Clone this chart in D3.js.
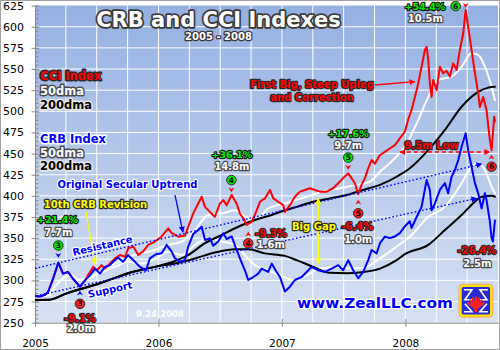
<!DOCTYPE html>
<html><head><meta charset="utf-8">
<script src="https://cdn.jsdelivr.net/npm/d3@7"></script>
<style>
html,body{margin:0;padding:0;background:#fff;}
svg{display:block;}
text{font-family:"DejaVu Sans",Verdana,sans-serif;}
</style></head><body>
<svg id="c" width="500" height="350"></svg>
<script>
// ---------- DATA (decimal year, index value) ----------
const yearTicks = [2005, 2006, 2007, 2008];
const valueTicks = [250,275,300,325,350,375,400,425,450,475,500,525,550,575,600,625];

const crb = [
[2005.000,282],[2005.040,281],[2005.081,283],[2005.105,286],[2005.146,302],[2005.189,321],[2005.227,308],
[2005.267,310],[2005.308,302],[2005.364,292.6],[2005.405,300],[2005.445,306],[2005.486,314],[2005.526,308],
[2005.567,316],[2005.607,318],[2005.632,322],[2005.672,327],[2005.713,322],[2005.753,330],[2005.810,322],
[2005.850,316],[2005.899,312],[2005.931,326],[2005.980,331],[2006.026,332],[2006.066,342],[2006.107,334],
[2006.134,326],[2006.174,322],[2006.215,324],[2006.241,340],[2006.282,355],[2006.322,359.6],[2006.350,363.5],
[2006.377,347.8],[2006.417,349.8],[2006.444,341],[2006.484,346],[2006.525,355.7],[2006.552,349],[2006.593,352],
[2006.633,336],[2006.660,326],[2006.700,312],[2006.727,300.5],[2006.768,304],[2006.808,308],[2006.836,314],
[2006.889,310],[2006.917,320],[2006.957,310],[2006.984,304],[2007.024,287],[2007.065,292.6],[2007.105,300.5],
[2007.160,304],[2007.200,310],[2007.240,316],[2007.294,312],[2007.348,310],[2007.402,314],[2007.456,318],
[2007.496,312],[2007.537,324],[2007.577,312],[2007.618,302.5],[2007.658,310],[2007.699,324],[2007.726,336],
[2007.767,332],[2007.794,344],[2007.834,351.7],[2007.874,350],[2007.915,352],[2007.955,356],[2007.996,364],
[2008.036,370],[2008.050,362],[2008.091,375],[2008.131,387],[2008.172,418.7],[2008.198,407],[2008.212,383],
[2008.239,391],[2008.279,407],[2008.320,415],[2008.346,403],[2008.374,422.6],[2008.401,430.5],[2008.428,442.4],
[2008.455,458],[2008.488,474],[2008.508,454],[2008.536,434.5],[2008.563,415],[2008.590,403],[2008.617,385],
[2008.644,403],[2008.657,395],[2008.684,370],[2008.698,350],[2008.709,346],[2008.725,371]
];

const cci = [
[2005.000,282],[2005.040,281],[2005.081,283],[2005.105,286],[2005.146,302],[2005.189,321],[2005.227,308],
[2005.267,310],[2005.308,302],[2005.364,292.6],[2005.405,300],[2005.429,306],[2005.472,316],[2005.502,312],
[2005.540,318],[2005.567,314],[2005.607,320],[2005.648,326],[2005.688,330],[2005.729,328],[2005.755,338],
[2005.796,340],[2005.836,330],[2005.874,334],[2005.917,342],[2005.972,346],[2006.026,352],[2006.079,361.6],
[2006.107,356],[2006.160,351.7],[2006.215,353],[2006.241,363.5],[2006.282,379.3],[2006.322,391],[2006.350,399],
[2006.377,387],[2006.417,381],[2006.457,375.3],[2006.498,391],[2006.525,395],[2006.552,389],[2006.593,401],
[2006.633,391],[2006.660,379],[2006.687,373.5],[2006.714,365.5],[2006.755,369.4],[2006.781,377.4],[2006.822,393],
[2006.862,397],[2006.903,407],[2006.930,397],[2006.970,393],[2007.011,389],[2007.024,381],[2007.065,389],
[2007.105,399],[2007.146,405],[2007.186,407],[2007.227,409],[2007.267,407],[2007.308,405],[2007.362,405],
[2007.415,409],[2007.456,415],[2007.496,421],[2007.537,426.6],[2007.564,421],[2007.591,415],[2007.618,402],
[2007.645,413],[2007.672,421],[2007.699,432.6],[2007.726,442.4],[2007.753,438],[2007.794,448.3],[2007.834,452],
[2007.874,456],[2007.915,460],[2007.955,468],[2007.996,476],[2008.022,490],[2008.050,501.5],[2008.077,517],
[2008.104,533],[2008.131,552.7],[2008.158,572.5],[2008.172,576.4],[2008.185,560.6],[2008.198,533],[2008.212,517],
[2008.225,537],[2008.253,525],[2008.279,552.7],[2008.306,545],[2008.333,548],[2008.360,541],[2008.387,556.7],
[2008.415,548.8],[2008.441,572.5],[2008.468,592],[2008.488,619.7],[2008.508,600],[2008.536,572.5],[2008.563,545],
[2008.590,521],[2008.603,505],[2008.630,517],[2008.657,501.5],[2008.684,466],[2008.698,454],[2008.719,493.6],
[2008.725,488]
];

const crb50 = [
[2005.000,282],[2005.105,282],[2005.162,292.6],[2005.243,304],[2005.297,306],[2005.351,300.5],[2005.432,302.5],
[2005.540,310],[2005.648,316],[2005.755,322],[2005.864,320],[2005.972,325],[2006.079,334],[2006.188,330],
[2006.296,342],[2006.403,350],[2006.512,346],[2006.619,342],[2006.700,330],[2006.781,318],[2006.889,312],
[2006.984,306],[2007.092,300.5],[2007.200,306],[2007.308,314],[2007.443,316],[2007.577,314],[2007.686,316],
[2007.794,326],[2007.929,340],[2008.050,353.7],[2008.185,375],[2008.320,387],[2008.455,415],[2008.536,434.5],
[2008.590,438.5],[2008.644,430.5],[2008.698,410.8],[2008.725,403]
];

const cci50 = [
[2005.000,282],[2005.105,282],[2005.162,292.6],[2005.243,304],[2005.297,306],[2005.351,300.5],[2005.432,302.5],
[2005.540,311],[2005.648,320],[2005.755,328],[2005.864,332],[2005.972,336],[2006.079,342],[2006.188,346],
[2006.296,359.6],[2006.403,377.4],[2006.512,379.3],[2006.619,383],[2006.700,375.3],[2006.781,371.4],[2006.889,385],
[2007.024,391],[2007.200,399],[2007.334,405],[2007.470,409],[2007.605,413],[2007.713,416.7],[2007.794,428.5],
[2007.901,442.4],[2007.996,458],[2008.104,489.7],[2008.185,517],[2008.266,537],[2008.374,541],[2008.455,552.7],
[2008.536,568.6],[2008.590,566.6],[2008.644,552.7],[2008.698,529],[2008.725,513]
];

const crb200 = [
[2005.000,276.8],[2005.108,277],[2005.257,284.7],[2005.526,296.6],[2005.796,310.3],[2005.972,316],[2006.134,320],
[2006.296,326],[2006.457,333],[2006.619,337],[2006.727,337],[2006.862,332],[2007.024,329],[2007.119,324],
[2007.253,316],[2007.389,309],[2007.524,308.5],[2007.658,310],[2007.794,314],[2007.929,324],[2007.996,331],
[2008.185,342],[2008.320,359.6],[2008.455,377.4],[2008.563,393],[2008.617,399],[2008.698,400],[2008.725,399]
];

const cci200 = [
[2005.000,276.8],[2005.108,277],[2005.257,284.7],[2005.526,296.6],[2005.796,310.3],[2005.972,316],[2006.134,323],
[2006.241,330],[2006.377,344],[2006.512,353.7],[2006.646,363.5],[2006.781,371.4],[2006.917,377.4],[2007.024,383],
[2007.119,387],[2007.253,393],[2007.389,397],[2007.524,401],[2007.658,407],[2007.794,413],[2007.929,422.6],
[2008.036,432.6],[2008.185,454],[2008.320,478],[2008.455,505.4],[2008.590,523],[2008.671,528],[2008.725,529]
];

// trend channel (start, end) in data units
const resistanceLine = [[2005.000,314.3],[2008.619,437.7]];
const supportLine    = [[2005.040,282.8],[2008.579,397.1]];

// annotations anchored in data units: [year, value, text, style]
const labels = [
 [2008.158,620.3,"+54.4%","green"],[2008.162,605.9,"10.5m","white"],
 [2007.243,527.5,"First Big, Steep Upleg","red"],[2007.243,512.1,"and Correction","red"],
 [2008.211,455.4,"9.5m Low","red"],
 [2007.537,469.9,"+17.6%","green"],[2007.537,456.0,"9.7m","white"],
 [2006.595,445.3,"+36.1%","green"],[2006.595,430.6,"14.8m","white"],
 [2005.749,409.3,"Original Secular Uptrend","blue"],
 [2005.490,385.3,"10th CRB Revision","yellow"],
 [2005.182,367.9,"+21.4%","green"],[2005.189,352.9,"7.7m","white"],
 [2005.364,251.2,"-9.1%","red"],[2005.372,238.6,"2.0m","white"],
 [2006.012,257.3,"9.24.2008","plain"],
 [2006.911,351.3,"-9.3%","red"],[2006.911,338.0,"1.6m","white"],
 [2007.259,359.6,"Big Gap","yellow"],
 [2007.611,359.6,"-6.4%","red"],[2007.618,344.6,"1.0m","white"],
 [2008.579,331.2,"-26.4%","red"],[2008.583,316.2,"2.5m","white"]
];
const channelLabels = [[2005.553,337.1,"Resistance",resistanceLine],[2005.615,285.1,"Support",supportLine]];
const circles = [
 [2008.407,624.5,"6","green"],[2007.537,445.3,"5","green"],[2006.591,418.7,"4","green"],[2005.189,341.3,"3","green"],
 [2005.364,272.3,"3","red"],[2006.727,343.9,"4","red"],[2007.618,379.4,"5","red"],[2008.698,434.5,"6","red"]
];
const chevrons = [
 [2008.488,625.1,"down","red"],[2007.537,433.5,"down","red"],[2006.591,406.9,"down","red"],[2005.189,329.5,"down","blue"],
 [2005.364,285.1,"up","blue"],[2006.727,354.9,"up","red"],[2007.618,392.7,"up","red"],[2008.698,445.9,"up","red"]
];
const arrows = [
 {from:[2007.753,531.1],to:[2008.077,535.0],color:"red"},
 {from:[2006.134,401.0],to:[2006.198,357.2],color:"blue"},
 {from:[2005.413,380.9],to:[2005.486,319.4],color:"yellow"}
];
const doubleArrows = [
 {from:[2007.955,451.8],to:[2008.684,451.8],color:"red",dash:"4,3"},
 {from:[2007.294,397.1],to:[2007.294,320.2],color:"yellow",dash:null}
];
const logoAt = [2008.571,276.0];

// ---------- LAYOUT ----------
const W = 500, H = 350;
const M = {l:35, r:2, t:5.6, b:27.3};
const svg = d3.select("#c");
const x = d3.scaleLinear().domain([2005, 2008.75]).range([M.l, W - M.r]);
const y = d3.scaleLinear().domain([250, 625]).range([H - M.b, M.t]);

const colors = {red:"#ff0000", blue:"#0000ff", yellow:"#ffff00", green:"#00e400", white:"#ffffff", black:"#000000"};
const textStyles = {
  green:{fill:"#00ee00", stroke:"#1a1a1a"},
  white:{fill:"#ffffff", stroke:"#4a4a4a"},
  red:{fill:"#ff0000", stroke:"#2a2a2a"},
  blue:{fill:"#0000ff", stroke:"#ffffff"},
  yellow:{fill:"#ffff00", stroke:"#2a2a2a"},
  black:{fill:"#000000", stroke:"#e8e8e8"},
  plain:{fill:"#ffffff", stroke:"none"}
};

const defs = svg.append("defs");
const grad = defs.append("linearGradient").attr("id","bg").attr("x1",0).attr("y1",0).attr("x2",0).attr("y2",1);
grad.append("stop").attr("offset","0%").attr("stop-color","#94b0e2");
grad.append("stop").attr("offset","100%").attr("stop-color","#d6e1f3");
defs.append("clipPath").attr("id","plotclip").append("rect")
  .attr("x",x.range()[0]).attr("y",y.range()[1]).attr("width",x.range()[1]-x.range()[0]).attr("height",y.range()[0]-y.range()[1]);
Object.entries(colors).forEach(([k,c])=>{
  defs.append("marker").attr("id","arr-"+k).attr("viewBox","0 0 10 10").attr("refX",9).attr("refY",5)
    .attr("markerWidth",6).attr("markerHeight",6).attr("markerUnits","userSpaceOnUse").attr("orient","auto-start-reverse")
    .append("path").attr("d","M0,0 L10,5 L0,10 Z").attr("fill",c);
});

// background
svg.append("rect").attr("width",W).attr("height",H).attr("fill","#fff");
svg.append("rect").attr("x",x.range()[0]).attr("y",y.range()[1])
  .attr("width",x.range()[1]-x.range()[0]).attr("height",y.range()[0]-y.range()[1]).attr("fill","url(#bg)");

// grid
const grid = svg.append("g").attr("stroke","#ffffff").attr("stroke-width",1);
grid.selectAll("line.h").data(valueTicks.filter(v=>v>250 && v<625)).join("line")
  .attr("x1",x.range()[0]).attr("x2",x.range()[1]).attr("y1",d=>y(d)).attr("y2",d=>y(d));
grid.selectAll("line.v").data(d3.range(2005.25, 2008.75, 0.25)).join("line")
  .attr("x1",d=>x(d)).attr("x2",d=>x(d)).attr("y1",y.range()[0]).attr("y2",y.range()[1]);

// axes
const axisColor = "#8a8a8a";
const gy = svg.append("g").attr("transform",`translate(${M.l},0)`)
  .call(d3.axisLeft(y).tickValues(valueTicks).tickSize(3.5).tickSizeOuter(0).tickPadding(7.5));
gy.select(".domain").attr("stroke",axisColor);
gy.selectAll(".tick line").attr("stroke",axisColor);
gy.selectAll(".tick text").attr("font-size",11).attr("fill","#000").attr("font-family","'DejaVu Sans',sans-serif");
const gyIn = svg.append("g").attr("transform",`translate(${M.l},0)`)
  .call(d3.axisRight(y).tickValues(valueTicks).tickSize(4.3).tickSizeOuter(0).tickFormat(""));
gyIn.select(".domain").remove(); gyIn.selectAll(".tick line").attr("stroke",axisColor);
const gyMinor = svg.append("g").attr("transform",`translate(${M.l},0)`)
  .call(d3.axisRight(y).tickValues(d3.range(250, 626, 5)).tickSize(3.3).tickSizeOuter(0).tickFormat(""));
gyMinor.select(".domain").remove(); gyMinor.selectAll(".tick line").attr("stroke",axisColor);

const gx = svg.append("g").attr("transform",`translate(0,${y.range()[0]})`)
  .call(d3.axisBottom(x).tickValues(yearTicks).tickFormat(d3.format("d")).tickSize(4).tickSizeOuter(0).tickPadding(13));
gx.select(".domain").attr("stroke",axisColor);
gx.selectAll(".tick line").attr("stroke",axisColor);
gx.selectAll(".tick text").attr("font-size",10.5).attr("fill","#000").attr("font-family","'DejaVu Sans',sans-serif");
const gxIn = svg.append("g").attr("transform",`translate(0,${y.range()[0]})`)
  .call(d3.axisTop(x).tickValues(yearTicks).tickSize(4).tickSizeOuter(0).tickFormat(""));
gxIn.select(".domain").remove(); gxIn.selectAll(".tick line").attr("stroke",axisColor);

// series
const plot = svg.append("g").attr("clip-path","url(#plotclip)");
const rawLine = d3.line().x(d=>x(d[0])).y(d=>y(d[1]));
const smoothLine = d3.line().x(d=>x(d[0])).y(d=>y(d[1])).curve(d3.curveMonotoneX);
function draw(data, gen, color, w){
  plot.append("path").datum(data).attr("d",gen).attr("fill","none").attr("stroke",color)
    .attr("stroke-width",w).attr("stroke-linejoin","round").attr("stroke-linecap","round");
}
draw(crb50, smoothLine, "#ffffff", 2);
draw(cci50, smoothLine, "#ffffff", 2);
draw(crb200, smoothLine, "#000000", 2);
draw(cci200, smoothLine, "#000000", 2);
draw(cci, rawLine, "#ff0000", 2);
draw(crb, rawLine, "#0000ff", 2);

// channel lines
[resistanceLine, supportLine].forEach(l=>{
  svg.append("line").attr("x1",x(l[0][0])).attr("y1",y(l[0][1])).attr("x2",x(l[1][0])).attr("y2",y(l[1][1]))
    .attr("stroke","#0000ff").attr("stroke-width",1.4).attr("stroke-dasharray","1.6,2.2")
    .attr("marker-end","url(#arr-blue)");
});

// arrows
arrows.forEach(a=>{
  svg.append("line").attr("x1",x(a.from[0])).attr("y1",y(a.from[1])).attr("x2",x(a.to[0])).attr("y2",y(a.to[1]))
    .attr("stroke",colors[a.color]).attr("stroke-width",1.3).attr("marker-end",`url(#arr-${a.color})`);
});
doubleArrows.forEach(a=>{
  svg.append("line").attr("x1",x(a.from[0])).attr("y1",y(a.from[1])).attr("x2",x(a.to[0])).attr("y2",y(a.to[1]))
    .attr("stroke",colors[a.color]).attr("stroke-width",1.5).attr("stroke-dasharray",a.dash)
    .attr("marker-start",`url(#arr-${a.color})`).attr("marker-end",`url(#arr-${a.color})`);
});

// text helper
function label(g, px, py, txt, style, size, anchor){
  const s = textStyles[style];
  return g.append("text").attr("x",px).attr("y",py).text(txt)
    .attr("font-size",size).attr("font-weight","bold").attr("text-anchor",anchor||"middle")
    .attr("fill",s.fill).attr("stroke",s.stroke).attr("stroke-width",s.stroke==="none"?0:2.4)
    .attr("stroke-linejoin","round").attr("paint-order","stroke");
}
const ann = svg.append("g");

// chevrons
chevrons.forEach(([t,v,dir,c])=>{
  const d = dir==="down" ? "M-3,-2.5 L0,2.2 L3,-2.5 L0,-1 Z" : "M-3,2.5 L0,-2.2 L3,2.5 L0,1 Z";
  ann.append("path").attr("transform",`translate(${x(t)},${y(v)})`).attr("d",d).attr("fill",colors[c]);
});
// numbered circles
circles.forEach(([t,v,n,c])=>{
  const g = ann.append("g").attr("transform",`translate(${x(t)},${y(v)})`);
  g.append("circle").attr("r",4.8).attr("fill",c==="green"?"#00e000":"#ff1a1a").attr("stroke","#222").attr("stroke-width",0.9);
  g.append("text").attr("y",2.6).attr("text-anchor","middle").attr("font-size",7.5).attr("font-weight","bold").attr("fill","#000").text(n);
});

labels.forEach(([t,v,txt,st])=>{
  const size = st==="green" ? 9.5 : (st==="plain" ? 8.5 : 10);
  label(ann, x(t), y(v), txt, st, size);
});
channelLabels.forEach(([t,v,txt,l])=>{
  const ang = Math.atan2(y(l[1][1])-y(l[0][1]), x(l[1][0])-x(l[0][0]))*180/Math.PI;
  label(ann, 0, 0, txt, "blue", 10).attr("transform",`translate(${x(t)},${y(v)}) rotate(${ang})`);
});

// website
label(ann, 375, 307.5, "www.ZealLLC.com", "blue", 14).attr("textLength",156).attr("lengthAdjust","spacingAndGlyphs");

// logo
const lg = svg.append("g").attr("transform",`translate(${x(logoAt[0])},${y(logoAt[1])})`);
lg.append("rect").attr("x",-15.5).attr("y",-15).attr("width",31).attr("height",30).attr("rx",3)
  .attr("fill","#2a2ad4").attr("stroke","#ffe600").attr("stroke-width",2.6);
lg.append("rect").attr("x",-17).attr("y",-16.5).attr("width",34).attr("height",33).attr("rx",4)
  .attr("fill","none").attr("stroke","#ff9a40").attr("stroke-width",0.8);
lg.append("path").attr("d","M-12,-11 H-4 L-11,-1 H-4 M12,-11 H4 L11,-1 H4 M-12,11 H-4 L-11,3 M12,11 H4 L11,3")
  .attr("fill","none").attr("stroke","#ffffff").attr("stroke-width",1.6);
d3.range(-60, 61, 20).forEach(a=>{
  const r = Math.PI*(a-90)/180;
  lg.append("line").attr("x1",0).attr("y1",8).attr("x2",9*Math.cos(r)).attr("y2",8+11*Math.sin(r))
    .attr("stroke","#ff2020").attr("stroke-width",2.2).attr("stroke-linecap","round");
});
lg.append("path").attr("d","M-3,9 L0,12 L3,9 Z").attr("fill","#ff2020");

// title
label(svg, 218.5, 26.7, "CRB and CCI Indexes", "white", 21).attr("stroke","#3a3a3a").attr("stroke-width",3.5);
label(svg, 218.5, 40, "2005 - 2008", "white", 10).attr("stroke","#3a3a3a").attr("stroke-width",2.6);

// legend
const legendItems = [
  ["CCI Index","red",80],["50dma","white",95],["200dma","black",108.5],
  ["CRB Index","blue",142.5],["50dma","white",156.7],["200dma","black",170]
];
legendItems.forEach(([t,st,py])=>{
  label(svg, 40, py, t, st, 11.5, "start").attr("stroke-width",2.8);
});

// frame
svg.append("rect").attr("x",0.5).attr("y",0.5).attr("width",W-1).attr("height",H-1)
  .attr("fill","none").attr("stroke","#a0a0a0").attr("stroke-width",1);
</script>
</body></html>
